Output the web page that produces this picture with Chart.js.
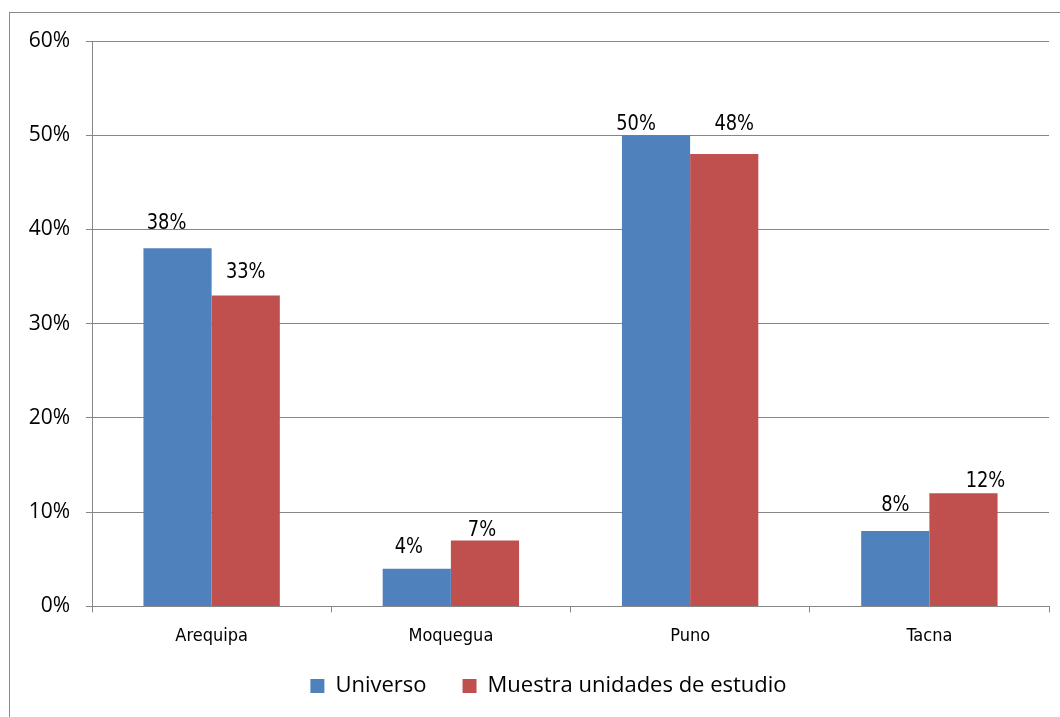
<!DOCTYPE html>
<html>
<head>
<meta charset="utf-8">
<script src="https://cdn.jsdelivr.net/npm/chart.js@4.4.1/dist/chart.umd.min.js"></script>
<style>
  body { margin: 0; background: #fff; }
  #frame { position: absolute; left: 9px; top: 12px; width: 1060px; height: 717px; border: 1px solid #8a8a8a; }
  #wrap { position: absolute; left: 0; top: 0; width: 1060px; height: 717px; }
</style>
</head>
<body>
<div id="frame"></div>
<div id="wrap"><canvas id="chart"></canvas></div>
<script>
// data
var regiones = ['Arequipa', 'Moquegua', 'Puno', 'Tacna'];
var universo = [38, 4, 50, 8];
var muestra = [33, 7, 48, 12];
var serieNombres = ['Universo', 'Muestra unidades de estudio'];

var gris = '#868686';
var narrow = '"Liberation Sans Narrow", "DejaVu Sans Condensed", "Arial Narrow", sans-serif';

// labels above bars (they were nudged by hand in the original, so each one has its own shift)
var etiquetas = {
  id: 'etiquetas',
  afterDatasetsDraw: function (chart, args, opts) {
    var ctx = chart.ctx;
    chart.data.datasets.forEach(function (ds, i) {
      chart.getDatasetMeta(i).data.forEach(function (bar, j) {
        var d = opts.shift[i][j];
        ctx.save();
        ctx.fillStyle = '#000';
        ctx.font = '22px ' + narrow;
        ctx.textAlign = 'center';
        ctx.textBaseline = 'alphabetic';
        ctx.translate(bar.x + d[0], bar.y - d[1]);
        ctx.scale(0.9, 1);
        ctx.fillText(ds.data[j] + '%', 0, 0);
        ctx.restore();
      });
    });
  }
};

// place the legend like the original
var moverLeyenda = {
  id: 'moverLeyenda',
  afterLayout: function (chart) {
    var l = chart.legend;
    l.left += 24; l.right += 24;
    l.top -= 21;
  }
};

new Chart(document.getElementById('chart'), {
  type: 'bar',
  data: {
    labels: regiones,
    datasets: [
      { label: serieNombres[0], data: universo, backgroundColor: '#4F81BD' },
      { label: serieNombres[1], data: muestra, backgroundColor: '#C0504D' }
    ]
  },
  options: {
    responsive: true,
    maintainAspectRatio: false,
    animation: false,
    layout: { padding: { top: 41, right: 11, left: 0, bottom: 11 } },
    datasets: { bar: { categoryPercentage: 0.57, barPercentage: 1.0 } },
    scales: {
      x: {
        grid: { drawOnChartArea: false, color: gris, tickLength: 6, offset: true },
        border: { color: gris },
        ticks: { color: '#000', font: { family: narrow, size: 18 }, padding: 13 }
      },
      y: {
        min: 0, max: 60,
        grid: { color: gris, tickLength: 6 },
        border: { color: gris },
        ticks: {
          stepSize: 10,
          color: '#000',
          padding: 16,
          font: { family: '"Open Sans", sans-serif', size: 21 },
          callback: function (v) { return v + '%'; }
        },
        afterFit: function (scale) { scale.width = 92; }
      }
    },
    plugins: {
      legend: {
        position: 'bottom',
        maxHeight: 46,
        labels: {
          color: '#000',
          boxWidth: 14, boxHeight: 14,
          padding: 36,
          font: { family: '"Open Sans", sans-serif', size: 22 }
        }
      },
      tooltip: { enabled: false },
      etiquetas: {
        shift: [
          [[-11, 19], [-8, 16], [-20, 5], [0, 20]],
          [[0, 17], [-3, 4], [10, 24], [22, 6]]
        ]
      }
    }
  },
  plugins: [etiquetas, moverLeyenda]
});
</script>
</body>
</html>
